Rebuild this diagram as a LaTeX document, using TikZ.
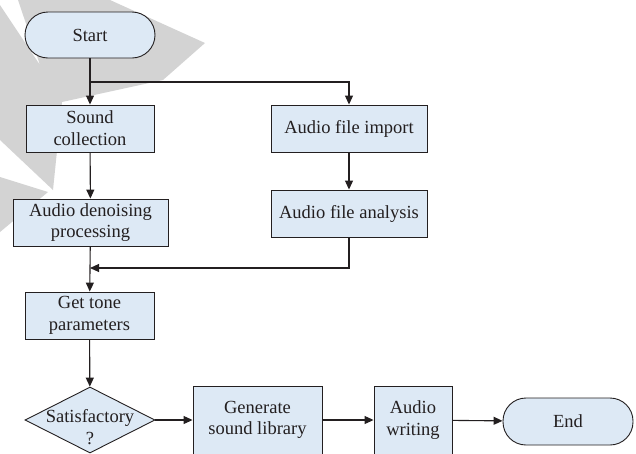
\documentclass[tikz,border=0pt]{standalone}
\usepackage{fontspec}
\setmainfont{Liberation Serif}
\usetikzlibrary{arrows.meta,shapes.geometric}
\definecolor{boxfill}{RGB}{221,233,245}
\definecolor{ink}{RGB}{35,31,32}
\definecolor{wm}{RGB}{211,211,211}
\begin{document}
\begin{tikzpicture}[x=1pt,y=-1pt,
  every node/.style={font=\fontsize{18.5}{21.7}\selectfont, text=ink},
  proc/.style={draw=ink, line width=0.9pt, fill=boxfill, inner sep=0pt, align=center},
  term/.style={proc, rounded corners=23pt},
  decide/.style={draw=ink, line width=0.9pt, fill=boxfill, diamond, inner sep=0pt},
  conn/.style={draw=ink, line width=1.1pt, -{Triangle[length=9pt,width=8pt]}},
  plain/.style={draw=ink, line width=1.1pt}]
\clip (0,0) rectangle (636,453);
% watermark
\fill[wm] (18,0) -- (110,0) -- (205,43) -- (163,80) -- (62,102) -- (53,190) -- (0,140) -- (0,5) -- (40,65) -- cycle;
\fill[wm] (0,177) -- (48,192) -- (0,232) -- cycle;
% nodes
\node[term, minimum width=130pt, minimum height=46pt] (start) at (90,35) {Start};
\node[proc, minimum width=128pt, minimum height=47pt] (sound) at (90,128.5) {Sound\\collection};
\node[proc, minimum width=155pt, minimum height=47pt] (denoise) at (90.5,222.5) {Audio denoising\\processing};
\node[proc, minimum width=129pt, minimum height=47pt] (tone) at (89.5,315.5) {Get tone\\parameters};
\node[decide, minimum width=130pt, minimum height=66pt] (sat) at (90,420) {};
\node[align=center, inner sep=0pt] (satlabel) at (90,427) {Satisfactory\\?};
\node[proc, minimum width=129pt, minimum height=68pt] (gen) at (257.5,420) {Generate\\sound library};
\node[proc, minimum width=78pt, minimum height=68pt] (write) at (413,420) {Audio\\writing};
\node[term, minimum width=130pt, minimum height=47pt] (end) at (568,421.5) {End};
\node[proc, minimum width=156pt, minimum height=47pt] (imp) at (349,128.5) {Audio file import};
\node[proc, minimum width=156pt, minimum height=47pt] (ana) at (349,213.5) {Audio file analysis};
\coordinate (branch) at (90,82);
\coordinate (merge) at (90,268);
% connectors
\draw[conn] (start) -- (sound);
\draw[conn] (branch) -| (imp);
\draw[conn] (sound) -- (denoise);
\draw[conn] (denoise) -- (tone);
\draw[conn] (ana) |- (merge);
\draw[conn] (imp) -- (ana);
\draw[conn] (tone) -- (sat);
\draw[conn] (sat) -- (gen);
\draw[conn] (gen) -- (write);
\draw[conn] (write) -- (end);
\end{tikzpicture}
\end{document}
